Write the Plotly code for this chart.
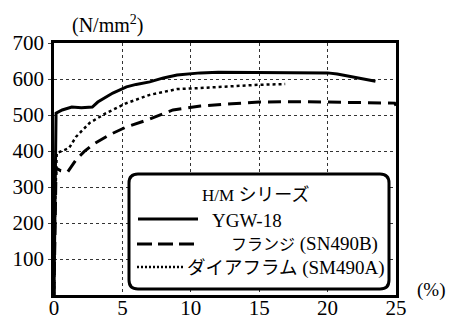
import plotly.graph_objects as go

# ---- data (strain %, stress N/mm2) ----
ygw_x = [0.0, 0.08, 0.12, 0.15, 0.6, 1.3, 2.0, 2.8, 3.2, 3.8, 4.3, 5.3, 6.0, 7.0, 8.0, 9.0, 10.7, 12.0, 15.0, 18.0, 20.0, 20.7, 22.0, 23.5]
ygw_y = [0, 250, 420, 505, 514, 522, 520, 522, 536, 550, 561, 578, 585, 592, 603, 611, 617, 619, 619, 619, 617, 614, 605, 594]

fl_x = [0.0, 0.08, 0.15, 0.5, 1.0, 1.6, 2.2, 2.8, 4.0, 5.3, 6.8, 8.7, 10.7, 13.0, 15.0, 18.0, 20.0, 22.0, 24.0, 24.9, 25.0]
fl_y = [0, 200, 353, 345, 342, 375, 398, 417, 444, 467, 486, 514, 525, 531, 536, 537, 536, 535, 533, 533, 526]

dia_x = [0.0, 0.08, 0.2, 1.1, 1.6, 2.6, 3.8, 5.3, 7.0, 9.0, 10.7, 13.0, 15.0, 16.9]
dia_y = [0, 250, 394, 408, 439, 478, 505, 533, 556, 572, 575, 580, 584, 586]

x_ticks = [0, 5, 10, 15, 20, 25]
y_ticks = [100, 200, 300, 400, 500, 600, 700]

def jp(t, size):
    return f'<span style="font-family:Noto Sans CJK JP;font-size:{size}px">{t}</span>'

legend_title = '<span style="font-size:17px">H/M</span> ' + jp("シリーズ", 18)
names = ["YGW-18",
         jp("フランジ", 16) + " (SN490B)",
         jp("ダイアフラム", 18.5) + " (SM490A)"]

SERIF = "Liberation Serif, Times New Roman, serif"

fig = go.Figure()
fig.add_trace(go.Scatter(x=ygw_x, y=ygw_y, mode="lines", name="YGW-18",
                         line=dict(color="black", width=3)))
fig.add_trace(go.Scatter(x=fl_x, y=fl_y, mode="lines", name="flange",
                         line=dict(color="black", width=3, dash="13px,7px")))
fig.add_trace(go.Scatter(x=dia_x, y=dia_y, mode="lines", name="diaphragm",
                         line=dict(color="black", width=2.5, dash="3px,3px")))

# page has an 8px body margin: figure coords = page coords - 8
OFF = 8
W, H = 454 - OFF, 320 - OFF
L, R, T, B = 54 - OFF, 396 - OFF, 43 - OFF, 295 - OFF   # plot area in figure pixels

def px(xp):  # page pixel -> paper
    return (xp - OFF - L) / (R - L)
def py(yp):
    return (B - (yp - OFF)) / (B - T)

shapes = []
x0, x1, y0, y1, r = 129, 389, 174, 289, 9
path = (f"M {px(x0+r)},{py(y0)} L {px(x1-r)},{py(y0)} Q {px(x1)},{py(y0)} {px(x1)},{py(y0+r)} "
        f"L {px(x1)},{py(y1-r)} Q {px(x1)},{py(y1)} {px(x1-r)},{py(y1)} "
        f"L {px(x0+r)},{py(y1)} Q {px(x0)},{py(y1)} {px(x0)},{py(y1-r)} "
        f"L {px(x0)},{py(y0+r)} Q {px(x0)},{py(y0)} {px(x0+r)},{py(y0)} Z")
shapes.append(dict(type="path", xref="paper", yref="paper", path=path,
                   fillcolor="white", line=dict(color="black", width=3), layer="above"))
shapes.append(dict(type="line", xref="paper", yref="paper", x0=px(138), x1=px(198), y0=py(219), y1=py(219),
                   line=dict(color="black", width=3), layer="above"))
shapes.append(dict(type="line", xref="paper", yref="paper", x0=px(137), x1=px(195), y0=py(244), y1=py(244),
                   line=dict(color="black", width=3, dash="15px,6px"), layer="above"))
shapes.append(dict(type="line", xref="paper", yref="paper", x0=px(137), x1=px(185), y0=py(267), y1=py(267),
                   line=dict(color="black", width=2.5, dash="2px,2px"), layer="above"))

def ann(text, x, y, size, anchor="left"):
    return dict(text=text, xref="paper", yref="paper", x=px(x), y=py(y), showarrow=False,
                xanchor=anchor, yanchor="middle", font=dict(family=SERIF, size=size, color="black"))

annotations = [
    ann(legend_title, 255, 193, 17, "center"),
    ann(names[0], 210, 221, 19),
    ann(names[1], 229, 243, 19),
    ann(names[2], 185, 266, 19),
    ann("(N/mm<sup>2</sup>)", 107, 24, 20, "center"),
    ann("(%)", 431, 290, 19, "center"),
]

fig.update_layout(
    width=W, height=H,
    margin=dict(l=L, r=W - R, t=T, b=H - B, pad=0, autoexpand=False),
    paper_bgcolor="white", plot_bgcolor="white",
    showlegend=False,
    shapes=shapes, annotations=annotations,
    font=dict(family=SERIF, size=21, color="black"),
)
fig.update_xaxes(range=[0, 25], tickvals=x_ticks, showgrid=True, gridcolor="#333",
                 gridwidth=1, griddash="3px,3px", showline=True, linecolor="black",
                 linewidth=2.5, mirror=True, ticks="", ticklen=0, zeroline=False, automargin=False,
                 ticklabelstandoff=-8, tickfont=dict(family=SERIF, size=21))
fig.update_yaxes(range=[0, 700], tickvals=y_ticks, showgrid=True, gridcolor="#333",
                 gridwidth=1, griddash="3px,3px", showline=True, linecolor="black",
                 linewidth=2.5, mirror=True, ticks="outside", ticklen=3, zeroline=False,
                 automargin=False, tickfont=dict(family=SERIF, size=21))

fig.write_html("out.html")
